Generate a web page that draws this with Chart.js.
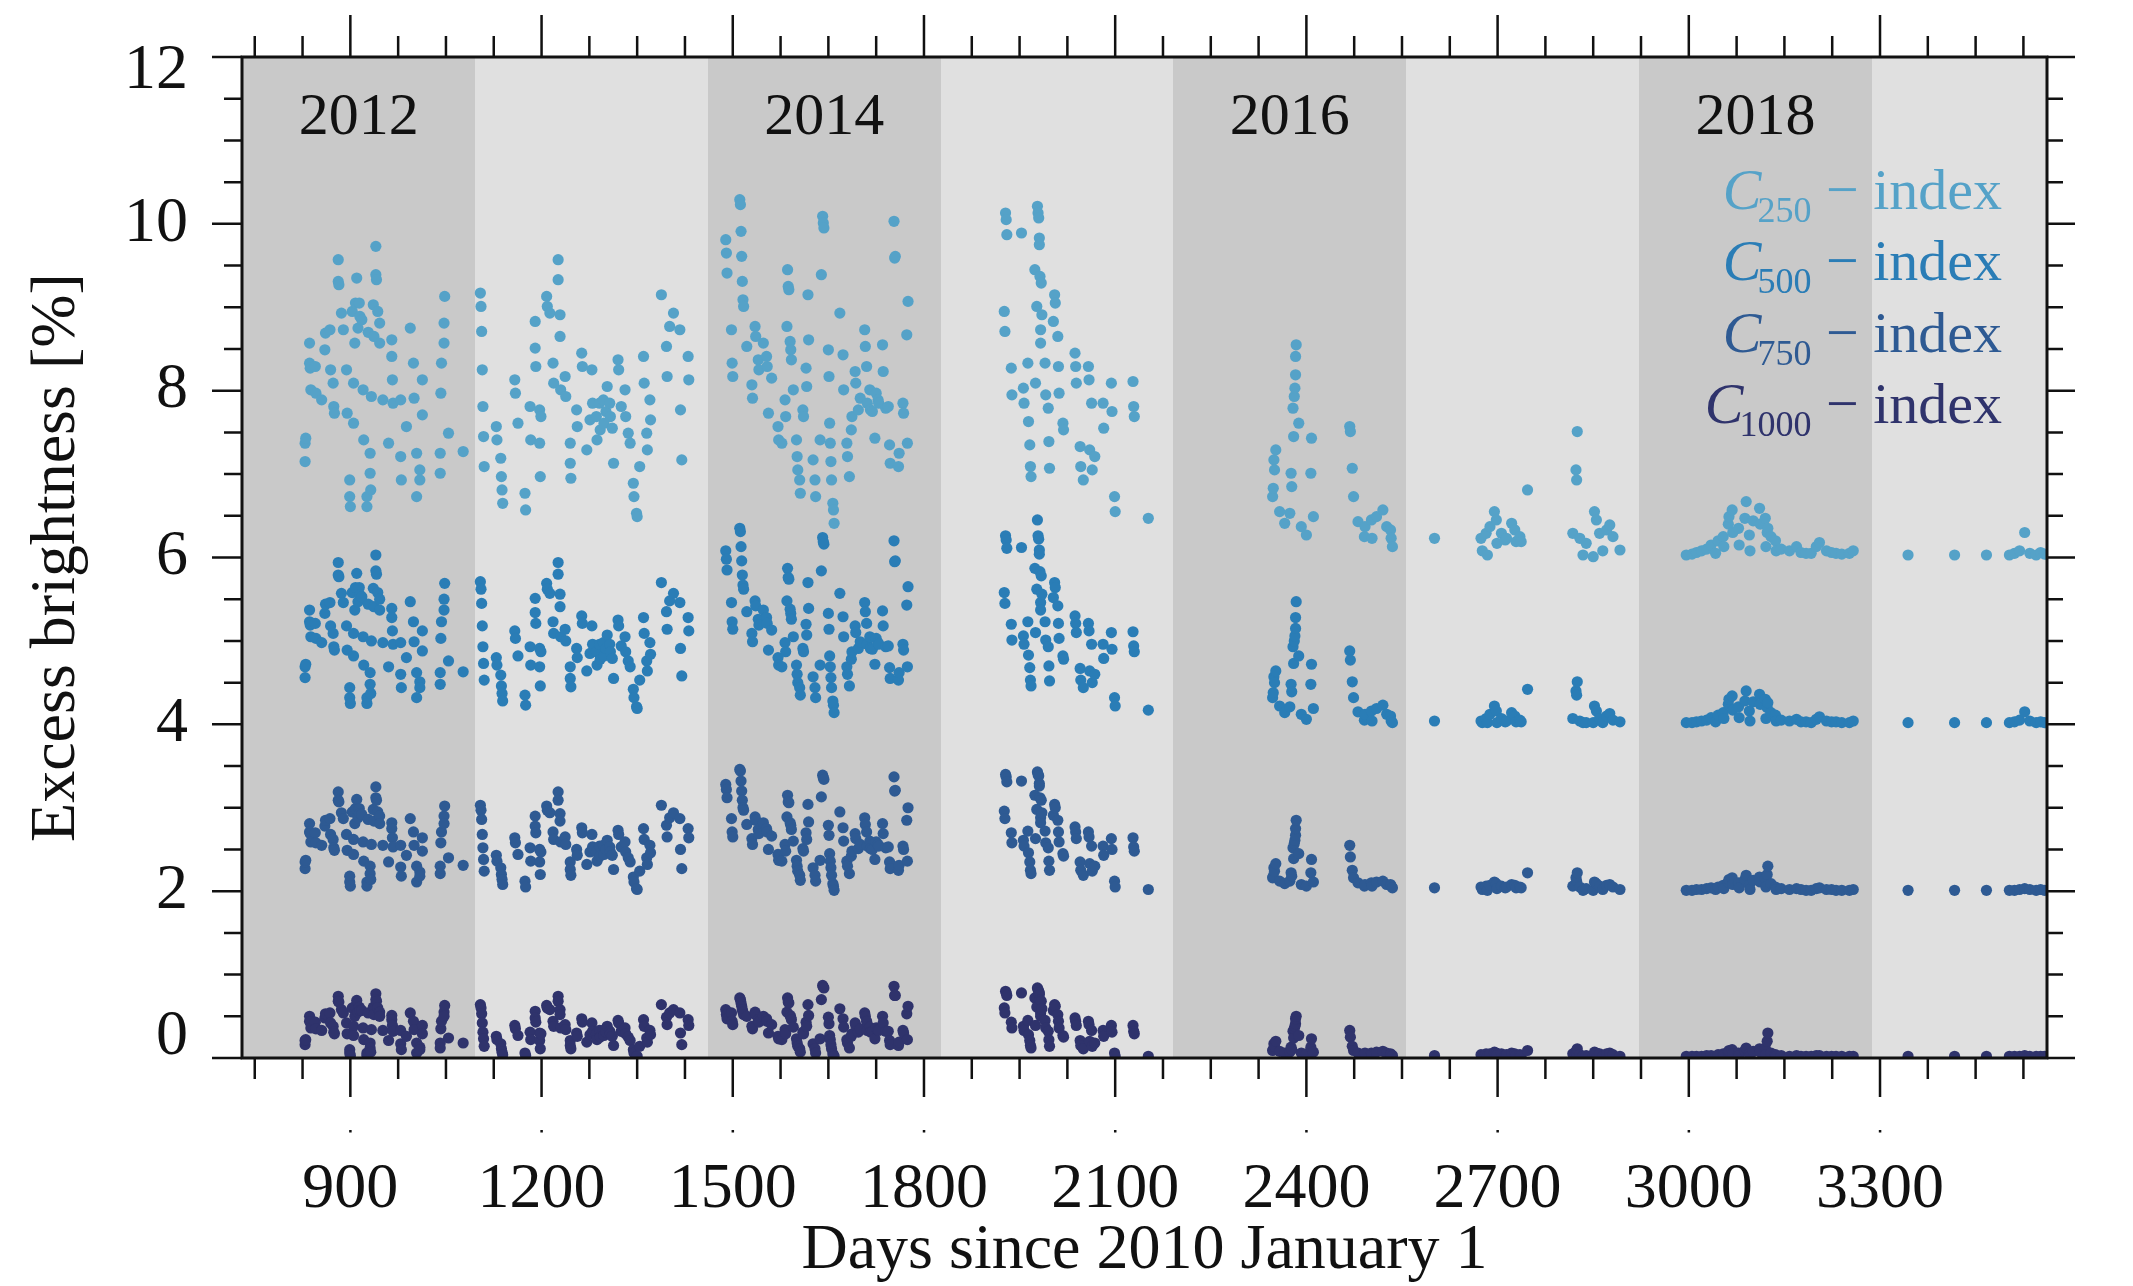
<!DOCTYPE html>
<html>
<head>
<meta charset="utf-8">
<script src="https://cdn.jsdelivr.net/npm/chart.js@4.4.1/dist/chart.umd.min.js"></script>
<style>
html,body{margin:0;padding:0;background:#fff;}
canvas{display:block;}
</style>
</head>
<body>
<canvas id="chart" width="2133" height="1286"></canvas>
<script>
// observation days (days since 2010 Jan 1), one entry per point, shared by the four indices
var days=[
829,829,830,836,836,837,838,845,846,855,860,861,868,869,873,874,875,881,881,882,886,889,894,895,899,899,900,903,905,905,907,908,910,912,914,915,918,920,921,926,926,928,931,931,932,933,936,937,940,940,941,943,946,946,951,960,965,965,966,967,979,979,980,988,994,999,1000,1004,1004,1009,1009,1013,1013,1041,1041,1042,1043,1047,1047,1048,1054,1077,
1104,1105,1106,1107,1108,1109,1110,1129,1130,1136,1137,1138,1139,1158,1159,1163,1174,1175,1182,1183,1190,1190,1191,1197,1197,1198,1199,1208,1209,1213,1218,1219,1226,1226,1229,1229,1230,1237,1238,1245,1245,1246,1255,1256,1263,1264,1271,1276,1279,1280,1286,1287,1291,1292,1297,1298,1301,1303,1307,1308,1311,1313,1320,1321,1325,1331,1332,1336,1339,1344,1345,1349,1350,1354,1360,1361,1365,1366,1370,1371,1388,1396,1397,1401,1407,1417,1418,1420,1430,1431,
1489,1490,1491,1498,1499,1500,1511,1512,1513,1514,1515,1516,1517,1522,1530,1531,1535,1536,1540,1541,1548,1553,1554,1556,1561,1571,1572,1577,1582,1583,1585,1586,1587,1588,1590,1591,1592,1595,1600,1601,1602,1605,1606,1610,1611,1615,1616,1618,1619,1626,1629,1630,1637,1639,1641,1642,1643,1650,1651,1652,1653,1654,1655,1657,1658,1659,1668,1673,1674,1679,1680,1683,1686,1687,1692,1693,1697,1700,1707,1708,1710,1711,1715,1716,1719,1723,1725,1728,1729,1735,1736,1740,1744,1746,1747,1753,1754,1755,1760,1761,1767,1768,1773,1774,1775,
1926,1927,1928,1929,1930,1937,1938,1953,1956,1957,1963,1964,1966,1967,1968,1974,1975,1977,1978,1979,1980,1981,1981,1982,1983,1983,1984,1985,1990,1991,1995,1996,1997,2003,2005,2006,2010,2011,2012,2018,2019,2037,2038,2039,2045,2046,2050,2058,2059,2060,2063,2064,2068,2081,2082,2094,2095,2099,2100,2128,2129,2130,2152,
2347,2348,2349,2350,2352,2358,2366,2374,2376,2377,2379,2380,2381,2382,2383,2383,2384,2388,2392,2400,2407,2408,2411,2468,2469,2472,2474,2481,2491,2492,2502,2503,2510,2520,2526,2532,2533,2535,
2601,2674,2676,2682,2684,2688,2695,2698,2699,2706,2712,2714,2722,2727,2729,2735,2737,2747,2818,2823,2824,2825,2829,2834,2839,2850,2852,2855,2860,2865,2871,2876,2881,2892,
2996,3005,3012,3020,3028,3035,3042,3046,3054,3055,3062,3063,3068,3069,3078,3079,3088,3090,3095,3096,3101,3111,3112,3120,3121,3123,3124,3129,3136,3137,3145,3158,3169,3176,3184,3192,3200,3205,3216,3224,3231,3240,3252,3258,
3344,3417,3467,3503,3511,3519,3527,3535,3545,3552,3558
];

// C250 - index (shown offset by +6)
var c250=[
7.15,7.37,7.43,8.57,8.33,8.27,8.01,8.29,7.97,7.89,8.49,8.69,8.73,8.25,8.09,7.81,7.73,9.57,9.31,9.27,8.93,8.73,8.25,7.73,6.73,6.93,6.61,8.95,8.09,7.61,8.57,9.05,9.35,8.75,9.05,8.89,8.85,8.01,7.41,6.73,6.61,8.70,7.25,7.01,6.81,7.93,9.03,8.65,9.73,9.39,9.33,8.95,8.81,8.57,7.89,7.37,8.61,8.41,8.13,7.85,7.89,7.21,6.93,7.57,8.75,8.33,7.91,7.25,6.73,7.05,6.93,8.13,7.71,7.25,7.01,7.97,8.33,8.81,8.57,9.13,7.49,7.27,
9.17,9.01,8.71,8.25,7.81,7.45,7.09,7.57,7.41,7.19,6.97,6.81,6.65,8.13,7.97,7.61,6.77,6.57,7.81,7.41,8.83,8.51,8.29,7.77,7.37,6.97,7.69,9.13,9.01,8.93,8.33,8.09,9.57,9.33,8.91,8.65,8.01,8.17,7.93,7.37,7.13,6.95,7.77,7.57,8.45,8.29,7.29,7.65,8.25,7.85,7.69,7.41,7.85,7.53,7.89,7.61,7.75,8.05,7.85,7.69,7.55,7.13,8.37,8.25,7.81,8.01,7.69,7.49,7.37,6.89,6.73,6.53,6.49,7.09,8.41,8.09,7.49,7.29,7.89,7.65,9.15,8.53,8.17,8.77,8.93,8.73,7.77,7.17,8.41,8.13,
9.81,9.65,9.41,8.73,8.33,8.17,10.29,10.23,9.91,9.61,9.31,9.09,9.01,8.53,8.07,7.91,8.77,8.65,8.37,8.25,8.57,8.41,8.29,7.73,8.15,7.57,7.41,7.37,7.89,7.69,8.77,9.45,9.25,9.21,8.59,8.49,8.37,8.01,7.41,7.21,7.05,6.93,6.77,7.77,7.69,8.27,8.05,9.15,8.61,7.17,6.93,6.73,7.41,9.39,10.09,10.01,9.95,8.49,8.17,7.61,7.37,7.15,6.93,6.65,6.57,6.41,8.93,8.43,8.01,7.37,7.21,6.97,7.53,7.69,8.23,8.09,7.77,7.91,8.73,8.53,8.29,7.85,8.01,7.77,7.75,7.43,7.97,7.89,7.85,8.55,8.23,7.79,7.81,7.35,7.13,10.03,9.59,9.61,7.09,7.25,7.85,7.73,8.67,7.37,9.07,
8.95,8.71,10.13,10.05,9.87,8.27,7.95,9.89,8.03,7.85,8.33,7.63,7.35,7.09,6.97,9.45,8.09,9.01,10.21,10.13,10.07,9.83,9.75,9.37,8.73,8.57,9.29,8.91,8.33,7.95,7.79,7.39,7.07,8.83,9.15,9.05,8.65,8.29,7.97,7.61,7.53,8.45,8.29,8.09,7.33,7.09,6.93,8.29,8.13,7.29,7.85,7.05,7.21,7.85,7.55,8.09,7.75,6.73,6.55,8.11,7.81,7.69,6.47,
6.73,6.83,7.17,7.05,7.29,6.55,6.41,6.53,7.01,6.85,7.79,7.45,7.93,8.03,8.19,8.41,8.55,7.61,6.37,6.27,7.01,7.43,6.49,7.57,7.51,7.07,6.73,6.43,6.25,6.37,6.45,6.23,6.49,6.57,6.37,6.33,6.23,6.13,
6.23,6.23,6.08,6.29,6.03,6.37,6.55,6.45,6.17,6.29,6.21,6.23,6.41,6.33,6.19,6.25,6.19,6.81,6.29,7.05,6.93,7.51,6.23,6.03,6.17,6.01,6.55,6.45,6.29,6.08,6.33,6.39,6.25,6.09,
6.03,6.04,6.06,6.08,6.10,6.15,6.05,6.20,6.25,6.13,6.40,6.49,6.57,6.30,6.35,6.15,6.47,6.67,6.27,6.08,6.44,6.59,6.40,6.47,6.13,6.30,6.35,6.25,6.20,6.08,6.10,6.08,6.13,6.06,6.05,6.05,6.13,6.18,6.08,6.06,6.05,6.04,6.05,6.08,
6.03,6.03,6.03,6.03,6.05,6.08,6.30,6.05,6.03,6.06,6.04
];

// C500 - index (offset +4)
var c500=[
4.56,4.69,4.72,5.37,5.23,5.19,5.05,5.21,5.03,4.98,5.33,5.44,5.46,5.18,5.09,4.93,4.89,5.94,5.79,5.77,5.57,5.46,5.18,4.89,4.32,4.44,4.25,5.58,5.09,4.82,5.37,5.64,5.81,5.47,5.64,5.55,5.53,5.05,4.71,4.32,4.25,5.44,4.62,4.48,4.37,5.00,5.63,5.41,6.03,5.84,5.80,5.58,5.50,5.37,4.98,4.69,5.39,5.28,5.12,4.96,4.98,4.60,4.44,4.80,5.47,5.23,4.99,4.62,4.32,4.51,4.44,5.12,4.88,4.62,4.48,5.03,5.23,5.50,5.37,5.69,4.76,4.63,
5.71,5.62,5.45,5.18,4.93,4.73,4.53,4.80,4.71,4.59,4.46,4.37,4.28,5.12,5.03,4.82,4.35,4.23,4.93,4.71,5.51,5.34,5.21,4.91,4.69,4.46,4.87,5.69,5.62,5.57,5.23,5.09,5.94,5.80,5.56,5.41,5.05,5.14,5.00,4.69,4.55,4.45,4.91,4.80,5.30,5.21,4.64,4.85,5.18,4.96,4.87,4.71,4.96,4.78,4.98,4.82,4.91,5.07,4.96,4.87,4.79,4.55,5.25,5.18,4.94,5.05,4.87,4.76,4.69,4.42,4.32,4.21,4.19,4.53,5.28,5.09,4.76,4.64,4.98,4.84,5.70,5.35,5.14,5.48,5.57,5.46,4.91,4.58,5.28,5.12,
6.08,5.98,5.85,5.46,5.23,5.14,6.35,6.31,6.13,5.96,5.79,5.67,5.62,5.35,5.09,4.99,5.48,5.42,5.26,5.19,5.37,5.28,5.21,4.89,5.13,4.80,4.71,4.69,4.98,4.87,5.48,5.87,5.76,5.74,5.38,5.33,5.26,5.05,4.71,4.60,4.50,4.44,4.35,4.91,4.87,5.20,5.07,5.70,5.39,4.57,4.44,4.32,4.71,5.84,6.24,6.19,6.16,5.33,5.14,4.82,4.69,4.56,4.44,4.28,4.23,4.14,5.57,5.29,5.05,4.69,4.60,4.46,4.78,4.87,5.18,5.10,4.91,4.99,5.46,5.35,5.21,4.96,5.05,4.91,4.90,4.72,5.03,4.98,4.96,5.36,5.18,4.93,4.94,4.68,4.55,6.20,5.95,5.96,4.53,4.62,4.96,4.89,5.43,4.69,5.65,
5.58,5.45,6.26,6.21,6.11,5.20,5.01,6.12,5.06,4.96,5.23,4.83,4.68,4.53,4.46,5.87,5.10,5.62,6.45,6.26,6.22,6.09,6.04,5.83,5.46,5.37,5.78,5.56,5.23,5.01,4.93,4.70,4.52,5.52,5.70,5.64,5.42,5.21,5.03,4.82,4.78,5.30,5.21,5.10,4.67,4.53,4.44,5.21,5.12,4.64,4.96,4.50,4.60,4.96,4.79,5.10,4.90,4.32,4.22,5.11,4.94,4.87,4.17,
4.32,4.38,4.57,4.50,4.64,4.22,4.14,4.21,4.48,4.39,4.93,4.73,5.00,5.06,5.15,5.28,5.47,4.82,4.12,4.06,4.48,4.72,4.19,4.88,4.77,4.51,4.32,4.15,4.05,4.12,4.16,4.04,4.19,4.23,4.12,4.10,4.04,4.02,
4.04,4.04,4.02,4.07,4.02,4.12,4.22,4.16,4.02,4.07,4.03,4.04,4.14,4.10,4.03,4.05,4.03,4.42,4.07,4.40,4.35,4.51,4.04,4.02,4.02,4.02,4.22,4.16,4.07,4.02,4.10,4.13,4.05,4.03,
4.02,4.02,4.03,4.04,4.05,4.08,4.03,4.11,4.14,4.07,4.24,4.30,4.34,4.17,4.21,4.08,4.28,4.40,4.16,4.04,4.27,4.36,4.24,4.30,4.07,4.20,4.26,4.14,4.11,4.04,4.05,4.04,4.06,4.03,4.03,4.02,4.06,4.09,4.04,4.03,4.03,4.02,4.02,4.04,
4.02,4.02,4.02,4.02,4.03,4.05,4.15,4.04,4.02,4.03,4.02
];

// C750 - index (offset +2)
var c750=[
2.27,2.35,2.37,2.81,2.71,2.69,2.59,2.70,2.58,2.55,2.78,2.85,2.87,2.68,2.62,2.52,2.49,3.19,3.09,3.07,2.94,2.87,2.68,2.49,2.11,2.18,2.06,2.95,2.62,2.44,2.81,2.99,3.10,2.88,2.99,2.93,2.92,2.59,2.36,2.11,2.06,2.86,2.30,2.21,2.14,2.56,2.98,2.84,3.25,3.12,3.09,2.95,2.90,2.81,2.55,2.35,2.82,2.75,2.64,2.53,2.55,2.29,2.18,2.43,2.87,2.71,2.55,2.30,2.11,2.23,2.18,2.64,2.48,2.30,2.21,2.58,2.71,2.90,2.81,3.02,2.40,2.31,
3.03,2.97,2.86,2.68,2.52,2.38,2.24,2.43,2.36,2.28,2.20,2.14,2.08,2.64,2.58,2.44,2.12,2.05,2.52,2.36,2.90,2.78,2.70,2.50,2.35,2.20,2.47,3.02,2.97,2.94,2.71,2.62,3.19,3.09,2.93,2.84,2.59,2.65,2.56,2.35,2.26,2.19,2.50,2.43,2.76,2.70,2.32,2.47,2.68,2.53,2.47,2.36,2.54,2.42,2.55,2.44,2.50,2.61,2.53,2.47,2.43,2.26,2.73,2.68,2.53,2.59,2.47,2.40,2.35,2.17,2.11,2.03,2.02,2.24,2.75,2.62,2.40,2.32,2.55,2.46,3.03,2.79,2.65,2.88,2.94,2.87,2.50,2.27,2.75,2.64,
3.28,3.22,3.12,2.87,2.71,2.65,3.46,3.44,3.32,3.20,3.09,3.00,2.97,2.80,2.63,2.56,2.89,2.85,2.74,2.69,2.82,2.75,2.71,2.50,2.66,2.44,2.37,2.36,2.56,2.48,2.89,3.15,3.07,3.06,2.82,2.79,2.74,2.60,2.37,2.30,2.24,2.19,2.13,2.51,2.48,2.70,2.62,3.04,2.83,2.28,2.19,2.12,2.37,3.13,3.39,3.36,3.34,2.79,2.67,2.45,2.36,2.28,2.19,2.09,2.06,2.01,2.95,2.76,2.60,2.36,2.30,2.21,2.42,2.48,2.69,2.63,2.51,2.56,2.88,2.80,2.71,2.54,2.60,2.51,2.50,2.38,2.59,2.56,2.54,2.81,2.69,2.52,2.53,2.35,2.27,3.37,3.20,3.21,2.25,2.31,2.54,2.50,2.85,2.36,3.00,
2.96,2.87,3.40,3.37,3.31,2.70,2.58,3.32,2.61,2.54,2.72,2.46,2.35,2.25,2.21,3.15,2.63,2.98,3.43,3.40,3.38,3.29,3.26,3.12,2.88,2.82,3.09,2.94,2.72,2.58,2.52,2.36,2.25,2.91,3.04,3.00,2.85,2.71,2.59,2.45,2.42,2.77,2.71,2.63,2.35,2.25,2.19,2.71,2.65,2.33,2.54,2.24,2.30,2.54,2.43,2.63,2.50,2.12,2.05,2.64,2.53,2.48,2.02,
2.16,2.18,2.28,2.24,2.33,2.12,2.09,2.12,2.22,2.18,2.52,2.39,2.57,2.61,2.67,2.75,2.85,2.45,2.08,2.06,2.22,2.38,2.11,2.55,2.41,2.25,2.16,2.10,2.06,2.08,2.10,2.06,2.11,2.12,2.08,2.08,2.06,2.04,
2.04,2.05,2.02,2.06,2.01,2.07,2.11,2.09,2.03,2.06,2.04,2.05,2.08,2.07,2.04,2.05,2.04,2.22,2.06,2.16,2.12,2.22,2.05,2.01,2.03,2.01,2.11,2.09,2.06,2.02,2.07,2.08,2.05,2.02,
2.01,2.01,2.02,2.02,2.03,2.04,2.02,2.05,2.07,2.03,2.11,2.14,2.16,2.08,2.10,2.04,2.14,2.19,2.07,2.02,2.13,2.17,2.11,2.15,2.05,2.20,2.30,2.09,2.05,2.02,2.03,2.02,2.03,2.02,2.01,2.01,2.03,2.04,2.02,2.02,2.01,2.01,2.01,2.02,
2.01,2.01,2.01,2.01,2.01,2.02,2.03,2.02,2.01,2.02,2.01
];

// C1000 - index (no offset)
var c1000=[
0.16,0.21,0.22,0.50,0.44,0.43,0.36,0.43,0.35,0.33,0.48,0.53,0.54,0.42,0.38,0.31,0.29,0.74,0.68,0.67,0.58,0.54,0.42,0.29,0.06,0.10,0.03,0.60,0.38,0.27,0.50,0.62,0.69,0.55,0.61,0.57,0.57,0.36,0.22,0.06,0.03,0.54,0.18,0.12,0.07,0.34,0.61,0.52,0.77,0.70,0.68,0.60,0.55,0.50,0.33,0.21,0.51,0.46,0.39,0.32,0.33,0.17,0.10,0.26,0.54,0.44,0.34,0.18,0.06,0.13,0.10,0.39,0.29,0.18,0.12,0.35,0.44,0.55,0.50,0.63,0.24,0.18,
0.64,0.60,0.53,0.42,0.31,0.23,0.14,0.26,0.22,0.17,0.11,0.07,0.04,0.39,0.35,0.27,0.06,0.03,0.31,0.22,0.56,0.48,0.43,0.30,0.21,0.11,0.29,0.63,0.60,0.58,0.44,0.38,0.74,0.68,0.58,0.52,0.36,0.40,0.34,0.21,0.15,0.11,0.30,0.26,0.47,0.43,0.19,0.28,0.42,0.32,0.29,0.22,0.33,0.25,0.33,0.27,0.31,0.38,0.32,0.29,0.26,0.15,0.45,0.42,0.32,0.36,0.29,0.25,0.21,0.10,0.06,0.02,0.02,0.14,0.46,0.38,0.24,0.19,0.33,0.28,0.64,0.49,0.40,0.54,0.58,0.54,0.30,0.16,0.46,0.39,
0.58,0.52,0.47,0.54,0.44,0.40,0.72,0.70,0.66,0.62,0.58,0.55,0.52,0.50,0.38,0.35,0.55,0.52,0.46,0.43,0.50,0.47,0.44,0.30,0.40,0.26,0.23,0.22,0.34,0.29,0.55,0.72,0.67,0.66,0.51,0.49,0.46,0.37,0.23,0.18,0.14,0.11,0.07,0.31,0.29,0.43,0.38,0.64,0.51,0.17,0.11,0.06,0.23,0.70,0.87,0.85,0.84,0.49,0.41,0.27,0.22,0.16,0.11,0.05,0.03,0.02,0.59,0.47,0.37,0.22,0.18,0.12,0.26,0.29,0.42,0.39,0.31,0.35,0.54,0.50,0.44,0.33,0.37,0.31,0.31,0.23,0.36,0.34,0.33,0.50,0.42,0.32,0.32,0.21,0.16,0.86,0.75,0.75,0.15,0.19,0.33,0.30,0.53,0.22,0.62,
0.60,0.54,0.80,0.78,0.75,0.43,0.36,0.78,0.38,0.33,0.45,0.28,0.21,0.15,0.12,0.72,0.39,0.61,0.84,0.82,0.80,0.78,0.76,0.70,0.54,0.50,0.68,0.59,0.45,0.36,0.32,0.22,0.14,0.57,0.64,0.62,0.52,0.44,0.36,0.27,0.25,0.48,0.44,0.39,0.21,0.15,0.11,0.44,0.40,0.20,0.33,0.14,0.18,0.33,0.26,0.39,0.31,0.06,0.02,0.39,0.32,0.29,0.02,
0.09,0.10,0.17,0.14,0.20,0.08,0.06,0.07,0.13,0.10,0.32,0.24,0.35,0.38,0.41,0.47,0.50,0.27,0.06,0.05,0.13,0.23,0.07,0.33,0.25,0.14,0.09,0.06,0.05,0.06,0.06,0.04,0.07,0.08,0.06,0.05,0.04,0.03,
0.03,0.04,0.02,0.05,0.02,0.05,0.07,0.06,0.03,0.05,0.03,0.04,0.06,0.05,0.03,0.04,0.03,0.09,0.05,0.08,0.06,0.11,0.04,0.02,0.03,0.02,0.07,0.06,0.05,0.02,0.05,0.06,0.04,0.02,
0.02,0.02,0.02,0.02,0.03,0.03,0.02,0.04,0.05,0.03,0.07,0.09,0.10,0.05,0.06,0.03,0.09,0.12,0.05,0.02,0.08,0.11,0.07,0.12,0.04,0.20,0.30,0.06,0.04,0.02,0.03,0.02,0.03,0.02,0.02,0.02,0.03,0.03,0.02,0.02,0.02,0.02,0.02,0.02,
0.02,0.02,0.02,0.02,0.02,0.02,0.03,0.02,0.02,0.02,0.02
];

var xMin=730, xMax=3562;
var yMin=0, yMax=12;
var xMajor=[900,1200,1500,1800,2100,2400,2700,3000,3300];
var xMinorStep=75;
var yMajor=[0,2,4,6,8,10,12];
var yMinorStep=0.5;
var yearStarts=[730,1096,1461,1826,2191,2557,2922,3287,3653];
var yearLabels=["2012","","2014","","2016","","2018",""];
var seriesSub=["250","500","750","1000"];
var seriesColors=["#55a2c8","#2a7db6","#2e5a93","#2f336c"];

var FONT="'Liberation Serif','Times New Roman',serif";

function toPoints(vals){
  return days.map(function(d,i){ return {x:d, y:vals[i]}; });
}

var frame={
  id:'frame',
  beforeDatasetsDraw:function(chart){
    var ctx=chart.ctx, a=chart.chartArea, xs=chart.scales.x;
    ctx.save();
    for(var i=0;i<yearLabels.length;i++){
      var x0=Math.round(Math.max(a.left, xs.getPixelForValue(yearStarts[i])));
      var x1=Math.round(Math.min(a.right, xs.getPixelForValue(yearStarts[i+1])));
      ctx.fillStyle=(i%2===0)?'#c9c9c9':'#e0e0e0';
      ctx.fillRect(x0, a.top, x1-x0, a.bottom-a.top);
    }
    ctx.fillStyle='#111';
    ctx.font='60px '+FONT;
    ctx.textAlign='center';
    ctx.textBaseline='middle';
    for(var j=0;j<yearLabels.length;j++){
      if(!yearLabels[j]) continue;
      ctx.fillText(yearLabels[j], xs.getPixelForValue((yearStarts[j]+yearStarts[j+1])/2), a.top+61);
    }
    ctx.restore();
  },
  afterDatasetsDraw:function(chart){
    var ctx=chart.ctx, a=chart.chartArea, xs=chart.scales.x, ys=chart.scales.y;
    ctx.save();
    // frame
    ctx.strokeStyle='#111';
    ctx.lineWidth=3;
    ctx.strokeRect(a.left, a.top, a.right-a.left, a.bottom-a.top);
    // ticks on all four sides
    ctx.lineWidth=2.5;
    ctx.beginPath();
    for(var v=Math.ceil(xMin/xMinorStep)*xMinorStep; v<=xMax; v+=xMinorStep){
      var px=xs.getPixelForValue(v), major=xMajor.indexOf(v)>=0;
      ctx.moveTo(px, a.bottom); ctx.lineTo(px, a.bottom+(major?39:21));
      ctx.moveTo(px, a.top); ctx.lineTo(px, a.top-(major?42:21));
    }
    for(var w=yMin; w<=yMax+1e-9; w+=yMinorStep){
      var py=ys.getPixelForValue(w), maj=(Math.abs(w%2)<1e-9);
      ctx.moveTo(a.left, py); ctx.lineTo(a.left-(maj?30:18), py);
      ctx.moveTo(a.right, py); ctx.lineTo(a.right+(maj?28:16), py);
    }
    ctx.stroke();
    // tiny marks under the major x ticks
    ctx.fillStyle='#111';
    xMajor.forEach(function(v){
      var px=xs.getPixelForValue(v);
      ctx.fillRect(px-1.2, a.bottom+72, 2.5, 2.5);
    });
    // y tick labels (end labels sit inside the frame)
    ctx.font='64px '+FONT;
    ctx.textAlign='right';
    ctx.textBaseline='middle';
    yMajor.forEach(function(v){
      var off=(v===yMax)?14:((v===yMin)?-21:0);
      ctx.fillText(String(v), a.left-54, ys.getPixelForValue(v)+off);
    });
    // legend
    var right=a.right-45, base=a.top+152, step=71.3;
    seriesSub.forEach(function(sub,k){
      var y=base+k*step;
      ctx.fillStyle=seriesColors[k];
      ctx.textAlign='left';
      ctx.textBaseline='alphabetic';
      ctx.font='58px '+FONT;
      var tail=' \u2212 index';
      var xt=right-ctx.measureText(tail).width;
      ctx.fillText(tail, xt, y);
      ctx.font='36px '+FONT;
      var sw=ctx.measureText(sub).width;
      ctx.fillText(sub, xt-sw, y+13);
      ctx.font='italic 58px '+FONT;
      var cw=ctx.measureText('C').width;
      ctx.fillText('C', xt-sw-cw+4, y);
    });
    ctx.restore();
  }
};

var valueLists=[c250,c500,c750,c1000];

var myChart=new Chart(document.getElementById('chart'), {
  type:'scatter',
  data:{
    datasets:valueLists.map(function(vals,k){
      return {
        label:'C'+seriesSub[k]+' - index',
        data:toPoints(vals),
        backgroundColor:seriesColors[k],
        borderWidth:0,
        pointRadius:5.6,
        pointHoverRadius:5.6,
        clip:0
      };
    })
  },
  options:{
    responsive:false,
    animation:false,
    devicePixelRatio:1,
    layout:{padding:{top:57,right:86,left:0,bottom:0}},
    plugins:{legend:{display:false}, tooltip:{enabled:false}},
    scales:{
      x:{
        type:'linear', position:'bottom', min:xMin, max:xMax,
        afterBuildTicks:function(s){ s.ticks=xMajor.map(function(v){ return {value:v}; }); },
        afterFit:function(s){ s.height=228; },
        grid:{display:false, drawTicks:false},
        border:{display:false},
        ticks:{padding:94, color:'#111', font:{family:FONT, size:64}, maxRotation:0, autoSkip:false,
          callback:function(v){ return String(v); }},
        title:{display:true, text:'Days since 2010 January 1', color:'#111',
          font:{family:FONT, size:64, lineHeight:1.1}, padding:0}
      },
      y:{
        type:'linear', position:'left', min:yMin, max:yMax,
        afterBuildTicks:function(s){ s.ticks=yMajor.map(function(v){ return {value:v}; }); },
        afterFit:function(s){ s.width=242; },
        grid:{display:false, drawTicks:false},
        border:{display:false},
        ticks:{display:false},
        title:{display:true, text:'Excess brightness [%]', color:'#111',
          font:{family:FONT, size:64, lineHeight:1.1}, padding:{top:22, bottom:0}}
      }
    }
  },
  plugins:[frame]
});
</script>
</body>
</html>
